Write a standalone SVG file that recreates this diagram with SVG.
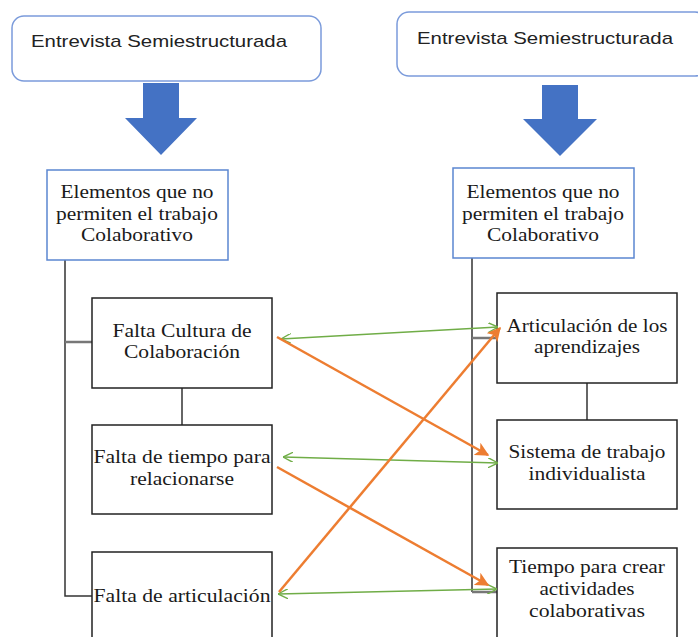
<svg xmlns="http://www.w3.org/2000/svg" width="698" height="637" viewBox="0 0 698 637">
<defs>
<marker id="gh" viewBox="0 0 10 10" refX="10" refY="5" markerWidth="10" markerHeight="10" markerUnits="userSpaceOnUse" orient="auto-start-reverse">
<path d="M0,0 L10,5 L0,10" fill="none" stroke="#70AD47" stroke-width="1.4"/>
</marker>
<marker id="oh" viewBox="0 0 10 10" refX="9" refY="5" markerWidth="14" markerHeight="14" markerUnits="userSpaceOnUse" orient="auto">
<path d="M0,0 L10,5 L0,10 L2.5,5 Z" fill="#ED7D31"/>
</marker>
</defs>
<style>
.top{fill:#fff;stroke:#7B9BDB;stroke-width:1.5}
.el{fill:#fff;stroke:#5B86D1;stroke-width:1.5}
.bx{fill:#fff;stroke:#222;stroke-width:1.5}
.bar{fill:#4472C4}
.tree{stroke:#333;stroke-width:1.5;fill:none}
.stub{stroke:#777;stroke-width:2.5;fill:none}
.g{stroke:#70AD47;stroke-width:1.3;fill:none;marker-start:url(#gh);marker-end:url(#gh)}
.o{stroke:#ED7D31;stroke-width:2.5;fill:none;marker-end:url(#oh)}
</style>
<rect width="698" height="637" fill="#fff"/>

<g font-family="Liberation Sans, Open Sans, sans-serif" font-size="17" fill="#222">
<g id="left-top">
<rect class="top" x="12" y="16" width="309" height="65" rx="12"/>
<text x="31" y="47" textLength="256" lengthAdjust="spacingAndGlyphs">Entrevista Semiestructurada</text>
</g>
<g id="right-top">
<rect class="top" x="397" y="12" width="310" height="64" rx="12"/>
<text x="417" y="44" textLength="256" lengthAdjust="spacingAndGlyphs">Entrevista Semiestructurada</text>
</g>
</g>
<g id="left-arrow">
<path class="bar" d="M143,83 H179 V118 H197 L161,155 L125,118 H143 Z"/>
</g>
<g id="right-arrow">
<path class="bar" d="M542,85 H578 V119 H597 L560,156 L523,119 H542 Z"/>
</g>

<g id="tree-lines">
<path class="tree" d="M65,260 V596 H92"/>
<path class="stub" d="M65,342 H92"/>
<path class="tree" d="M182,388 V425"/>
<path class="tree" d="M472,258 V592"/>
<path class="stub" d="M472,338 H497"/>
<path class="stub" d="M472,592 H497"/>
<path class="tree" d="M587,383 V420"/>
</g>

<g font-family="Liberation Serif, DejaVu Serif, Times New Roman, serif" font-size="18.5" fill="#1a1a1a" text-anchor="middle">
<g id="left-elementos">
<rect class="el" x="47" y="170" width="181" height="90"/>
<text x="137" y="198" textLength="153" lengthAdjust="spacingAndGlyphs">Elementos que no</text>
<text x="137" y="220" textLength="162" lengthAdjust="spacingAndGlyphs">permiten el trabajo</text>
<text x="137" y="241" textLength="112" lengthAdjust="spacingAndGlyphs">Colaborativo</text>
</g>
<g id="right-elementos">
<rect class="el" x="453" y="168" width="181" height="90"/>
<text x="543" y="198" textLength="153" lengthAdjust="spacingAndGlyphs">Elementos que no</text>
<text x="543" y="220" textLength="162" lengthAdjust="spacingAndGlyphs">permiten el trabajo</text>
<text x="543" y="241" textLength="112" lengthAdjust="spacingAndGlyphs">Colaborativo</text>
</g>
<g id="falta-cultura">
<rect class="bx" x="92" y="298" width="180" height="90"/>
<text x="182" y="337" textLength="139" lengthAdjust="spacingAndGlyphs">Falta Cultura de</text>
<text x="182" y="358" textLength="116" lengthAdjust="spacingAndGlyphs">Colaboración</text>
</g>
<g id="falta-tiempo">
<rect class="bx" x="92" y="425" width="180" height="89"/>
<text x="182" y="463" textLength="177" lengthAdjust="spacingAndGlyphs">Falta de tiempo para</text>
<text x="182" y="485" textLength="104" lengthAdjust="spacingAndGlyphs">relacionarse</text>
</g>
<g id="falta-articulacion">
<rect class="bx" x="92" y="552" width="180" height="100"/>
<text x="182" y="602" textLength="177" lengthAdjust="spacingAndGlyphs">Falta de articulación</text>
</g>
<g id="articulacion">
<rect class="bx" x="497" y="293" width="180" height="90"/>
<text x="587" y="332" textLength="161" lengthAdjust="spacingAndGlyphs">Articulación de los</text>
<text x="587" y="353" textLength="106" lengthAdjust="spacingAndGlyphs">aprendizajes</text>
</g>
<g id="sistema">
<rect class="bx" x="497" y="420" width="180" height="89"/>
<text x="587" y="458" textLength="157" lengthAdjust="spacingAndGlyphs">Sistema de trabajo</text>
<text x="587" y="480" textLength="117" lengthAdjust="spacingAndGlyphs">individualista</text>
</g>
<g id="tiempo-crear">
<rect class="bx" x="497" y="548" width="180" height="100"/>
<text x="587" y="573" textLength="156" lengthAdjust="spacingAndGlyphs">Tiempo para crear</text>
<text x="587" y="595" textLength="95" lengthAdjust="spacingAndGlyphs">actividades</text>
<text x="587" y="617" textLength="116" lengthAdjust="spacingAndGlyphs">colaborativas</text>
</g>
</g>

<g id="connectors">
<path class="g" d="M281,339 L498,327"/>
<path class="g" d="M283,457 L498,463"/>
<path class="g" d="M278,594 L497,589"/>
<path class="o" d="M277,337 L488,455"/>
<path class="o" d="M277,467 L488,585"/>
<path class="o" d="M279,592 L500,328"/>
</g>
</svg>
